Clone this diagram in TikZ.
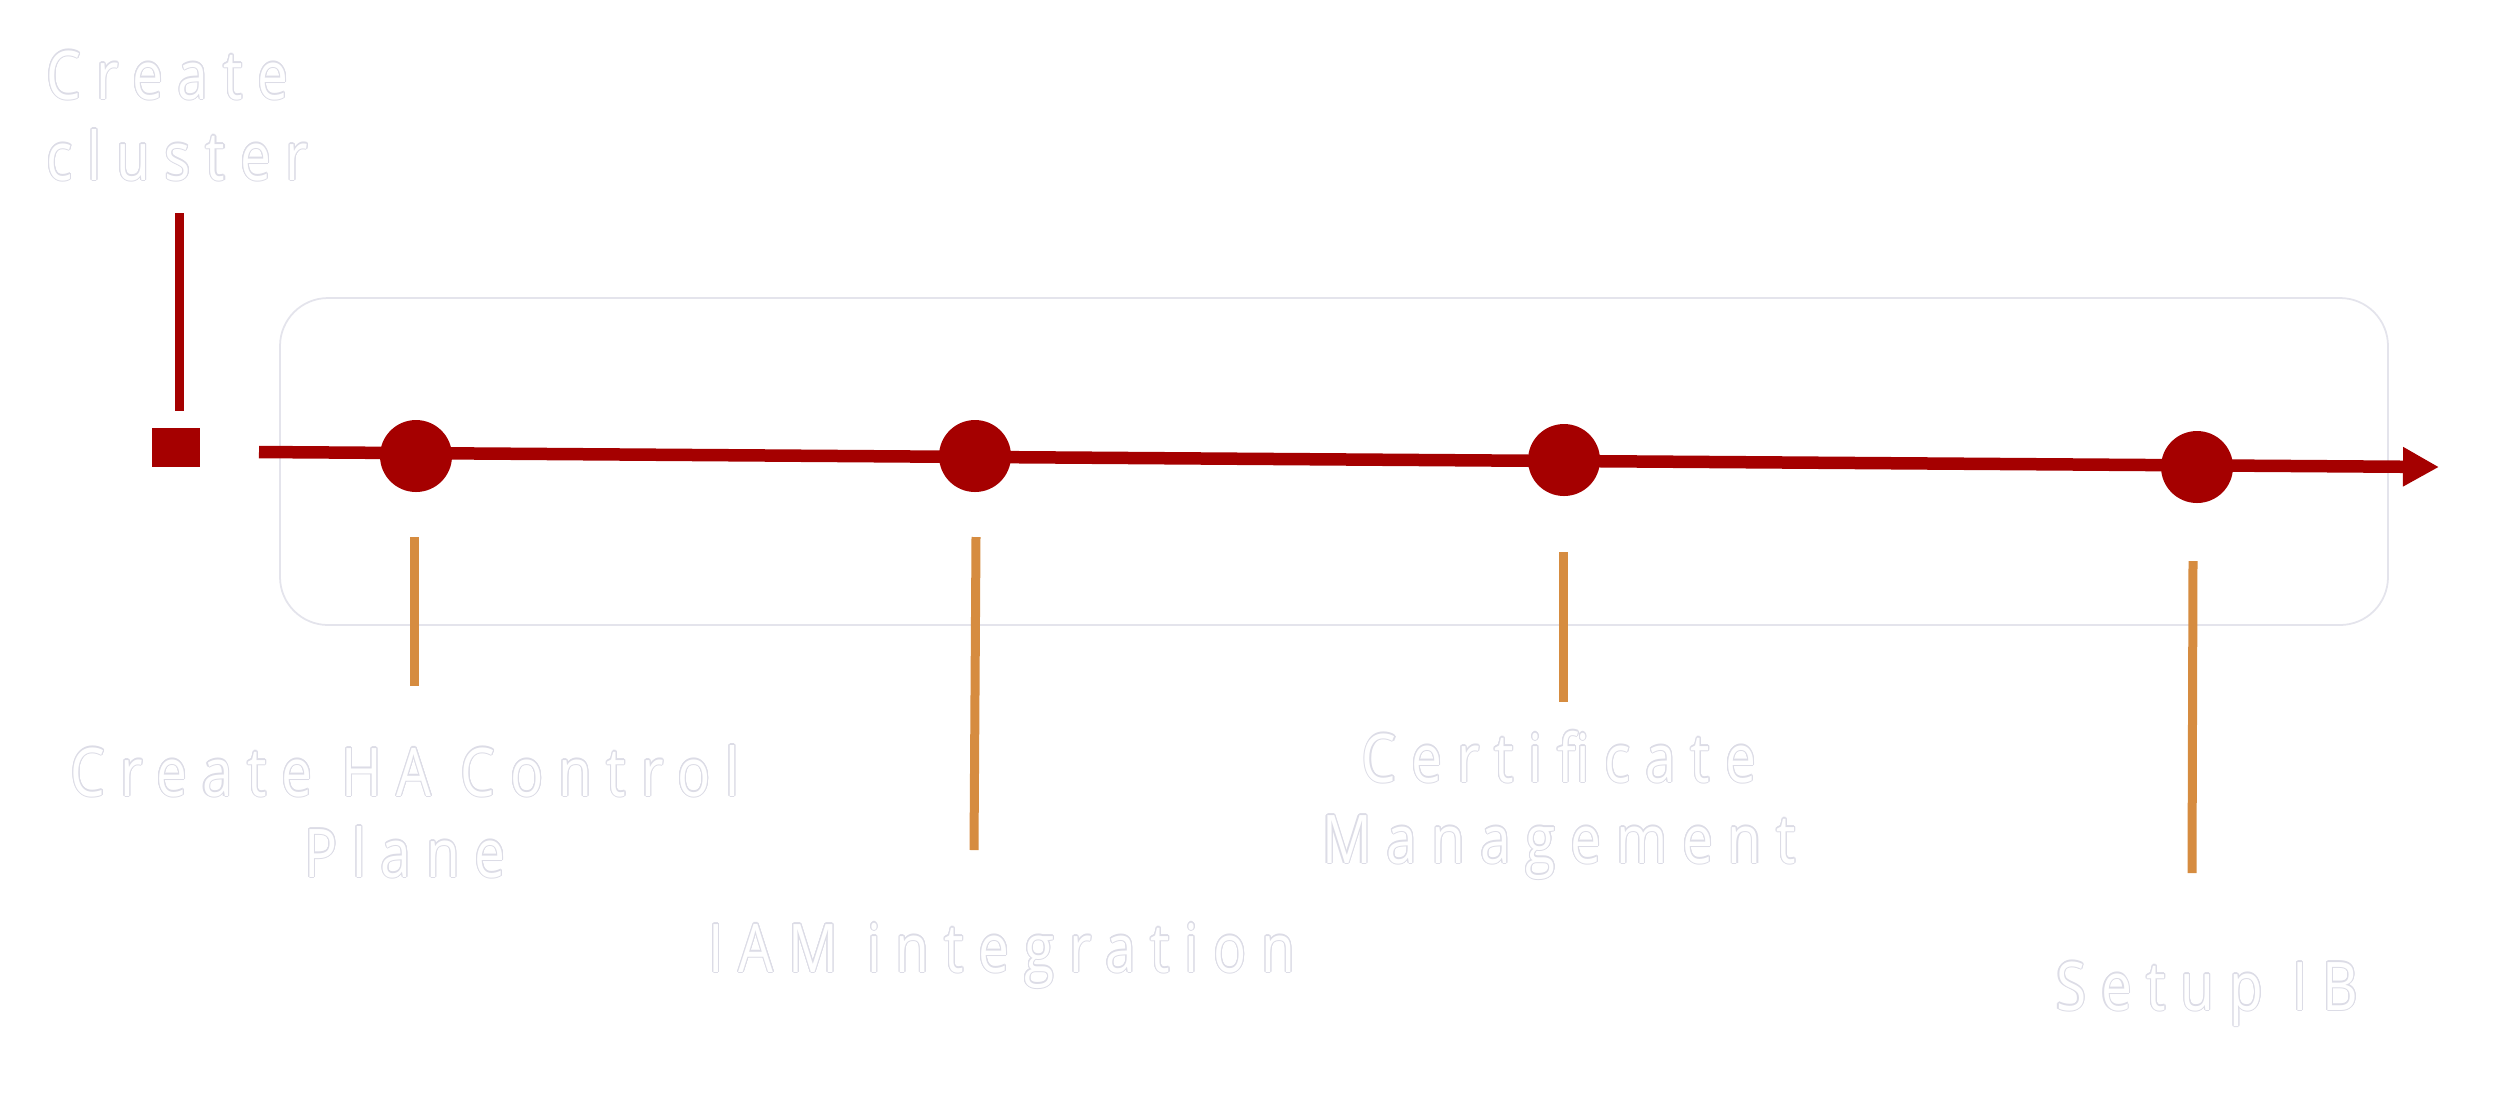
\documentclass[tikz,border=0pt]{standalone}
\usepackage{fontspec}
\usepackage{tikz}
\usepackage{contour}
\usetikzlibrary{arrows.meta}
\newfontfamily\stepfont[FakeStretch=0.82,LetterSpace=22]{Open Sans}
\definecolor{tlred}{HTML}{A50000}
\definecolor{tlorange}{HTML}{D68C40}
\definecolor{boxline}{HTML}{E4E4EC}
\definecolor{ghostline}{HTML}{DCDCE6}
\contourlength{0.3pt}
\contournumber{16}
\newcommand{\ghost}[1]{\contour{ghostline}{#1}}

\begin{document}
\begin{tikzpicture}[x=0.1mm,y=-0.1mm,
  steptext/.style={font=\stepfont\fontsize{19.1}{23.05}\selectfont,text=white,inner sep=0pt},
  milestone/.style={circle,fill=tlred,minimum size=7.2mm,inner sep=0pt},
  startmark/.style={rectangle,fill=tlred,minimum width=4.8mm,minimum height=3.9mm,inner sep=0pt},
  stem/.style={tlorange,line width=0.9mm}]
\useasboundingbox (0,0) rectangle (2500,1112);
\draw[boxline,fill=white,line width=0.5pt,rounded corners=4.8mm] (280,298) rectangle (2388,625);
\node[startmark] (start) at (176,447.5) {};
\coordinate (pole) at (179,213);
\coordinate (polefoot) at (179,411);
\draw[tlred,line width=0.9mm] (pole) -- (polefoot);
\coordinate (tlbegin) at (259,452);
\coordinate (tlend) at (2439,467);
\draw[tlred,line width=1.25mm,-{Triangle[length=3.6mm,width=3.7mm]}] (tlbegin) -- (tlend);
\node[milestone] (m1) at (416,456) {};
\node[milestone] (m2) at (975,456) {};
\node[milestone] (m3) at (1564,460) {};
\node[milestone] (m4) at (2197,467) {};
\coordinate (s1top) at (414,537); \coordinate (s1end) at (414,686);
\coordinate (s2top) at (976,537); \coordinate (s2end) at (974,850);
\coordinate (s3top) at (1563,552); \coordinate (s3end) at (1563,702);
\coordinate (s4top) at (2193,561); \coordinate (s4end) at (2192,873);
\draw[stem] (s1top) -- (s1end);
\draw[stem] (s2top) -- (s2end);
\draw[stem] (s3top) -- (s3end);
\draw[stem] (s4top) -- (s4end);
\node[steptext,anchor=base west,align=left] (cluster) at (46,180) {\ghost{Create}\\\ghost{cluster}};
\node[steptext,anchor=base,align=center] (haplane) at (405,877) {\ghost{Create HA Control}\\\ghost{Plane}};
\node[steptext,anchor=base] (iam) at (1002,972) {\ghost{IAM integration}};
\node[steptext,anchor=base,align=center] (certs) at (1559,863) {\ghost{Certificate}\\\ghost{Management}};
\node[steptext,anchor=base] (setuplb) at (2207,1010) {\ghost{Setup IB}};
\end{tikzpicture}
\end{document}
